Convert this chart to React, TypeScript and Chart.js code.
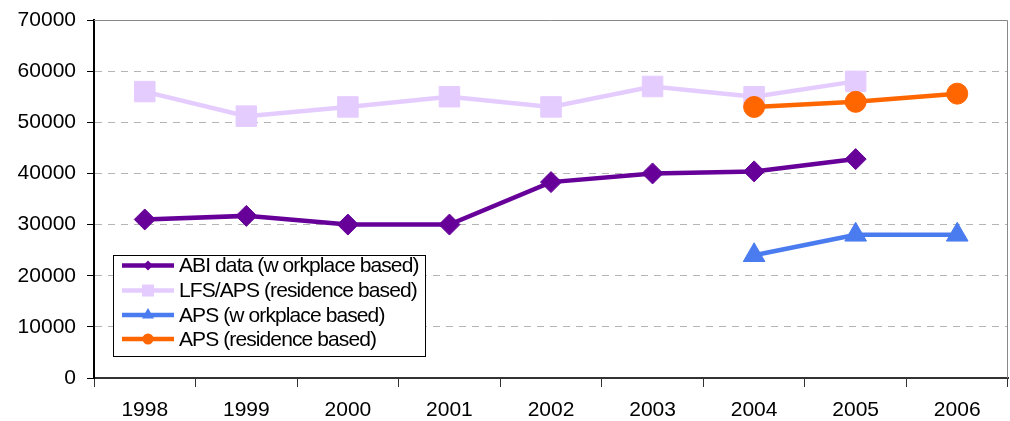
import React, { useEffect, useRef } from "react";
import { Chart, registerables } from "chart.js";

Chart.register(...registerables);

const years = ["1998", "1999", "2000", "2001", "2002", "2003", "2004", "2005", "2006"];
const abiWorkplace = [31000, 31700, 30000, 30000, 38300, 40000, 40400, 42800, null];
const lfsApsResidence = [56000, 51200, 53000, 55000, 53000, 57000, 55000, 58000, null];
const apsWorkplace = [null, null, null, null, null, null, 24000, 28000, 28000];
const apsResidence = [null, null, null, null, null, null, 53000, 54000, 55600];
const seriesLabels = [
  "ABI data (w orkplace based)",
  "LFS/APS (residence based)",
  "APS (w orkplace based)",
  "APS (residence based)",
];

const FONT = "'Liberation Sans', Arial, sans-serif";

// Gray frame on the top and right of the plot area
const frame = {
  id: "frame",
  beforeDatasetsDraw(chart: any) {
    const { ctx, chartArea } = chart;
    ctx.save();
    ctx.strokeStyle = "#888888";
    ctx.lineWidth = 1;
    ctx.beginPath();
    ctx.moveTo(chartArea.left, chartArea.top + 0.5);
    ctx.lineTo(chartArea.right - 0.5, chartArea.top + 0.5);
    ctx.lineTo(chartArea.right - 0.5, chartArea.bottom);
    ctx.stroke();
    ctx.restore();
  },
};

// Boxed legend placed inside the plot area
const innerLegend = {
  id: "innerLegend",
  afterDraw(chart: any) {
    const { ctx } = chart;
    const x0 = 113.5, y0 = 255.5, w = 312, h = 101;
    ctx.save();
    ctx.fillStyle = "#ffffff";
    ctx.fillRect(x0, y0, w, h);
    ctx.strokeStyle = "#000000";
    ctx.lineWidth = 1;
    ctx.strokeRect(x0, y0, w, h);
    const rows = [265.5, 290.5, 315, 339];
    const radii = [5, 8, 7, 5.5];
    chart.data.datasets.forEach((ds: any, i: number) => {
      const y = rows[i];
      ctx.strokeStyle = ds.borderColor;
      ctx.lineWidth = 4.5;
      ctx.beginPath();
      ctx.moveTo(122, y);
      ctx.lineTo(174, y);
      ctx.stroke();
      ctx.fillStyle = ds.backgroundColor;
      ctx.beginPath();
      const r = radii[i];
      const cx = 148;
      if (ds.pointStyle === "rectRot") {
        ctx.moveTo(cx, y - r);
        ctx.lineTo(cx + r, y);
        ctx.lineTo(cx, y + r);
        ctx.lineTo(cx - r, y);
      } else if (ds.pointStyle === "rect") {
        ctx.rect(cx - r * 0.75, y - r * 0.75, r * 1.5, r * 1.5);
      } else if (ds.pointStyle === "triangle") {
        ctx.moveTo(cx, y - r);
        ctx.lineTo(cx + r * 0.866, y + r * 0.5);
        ctx.lineTo(cx - r * 0.866, y + r * 0.5);
      } else {
        ctx.arc(cx, y, r, 0, Math.PI * 2);
      }
      ctx.closePath();
      ctx.fill();
      ctx.fillStyle = "#000000";
      ctx.font = `21px ${FONT}`;
      (ctx as any).letterSpacing = "-0.9px";
      ctx.textBaseline = "middle";
      ctx.textAlign = "left";
      ctx.fillText(ds.label, 179, y + 1);
    });
    ctx.restore();
  },
};

export default function App() {
  const canvasRef = useRef<HTMLCanvasElement | null>(null);

  useEffect(() => {
    if (!canvasRef.current) return;
    const line = (
      label: string,
      data: (number | null)[],
      color: string,
      pointStyle: string,
      radius: number,
      order: number
    ) => ({
      label,
      data,
      borderColor: color,
      backgroundColor: color,
      borderWidth: 4.5,
      pointStyle,
      pointRadius: radius,
      pointHoverRadius: radius,
      pointBorderWidth: 1,
      pointBorderColor: color,
      pointBackgroundColor: color,
      spanGaps: false,
      tension: 0,
      clip: false,
      order,
    });

    const chart = new Chart(canvasRef.current, {
      type: "line",
      data: {
        labels: years,
        datasets: [
          line(seriesLabels[0], abiWorkplace, "#660099", "rectRot", 10.5, 4),
          line(seriesLabels[1], lfsApsResidence, "#e5ccff", "rect", 14.5, 3),
          line(seriesLabels[2], apsWorkplace, "#4a7cf0", "triangle", 12.5, 2),
          line(seriesLabels[3], apsResidence, "#ff6600", "circle", 10.5, 1),
        ] as any,
      },
      options: {
        animation: false,
        responsive: false,
        maintainAspectRatio: false,
        layout: { autoPadding: false, padding: { left: 0, right: 2, top: 20, bottom: 0 } },
        plugins: {
          legend: { display: false },
          tooltip: { enabled: false },
        },
        scales: {
          x: {
            offset: true,
            afterFit: (s: any) => {
              s.height = 43;
              s.paddingLeft = 0;
              s.paddingRight = 0;
            },
            grid: {
              offset: true,
              drawOnChartArea: false,
              drawTicks: true,
              tickLength: 9,
              tickColor: "#333333",
              tickWidth: 1,
            },
            border: { display: true, color: "#333333", width: 2 },
            ticks: {
              color: "#000000",
              font: { family: FONT, size: 21 },
              padding: 11,
              maxRotation: 0,
              autoSkip: false,
            },
          },
          y: {
            min: 0,
            max: 70000,
            afterFit: (s: any) => {
              s.width = 94;
              s.paddingTop = 0;
              s.paddingBottom = 0;
            },
            grid: {
              color: (c: any) =>
                c.tick && (c.tick.value === 0 || c.tick.value === 70000)
                  ? "rgba(0,0,0,0)"
                  : "#b4b4b4",
              lineWidth: 1,
              drawTicks: true,
              tickLength: 7,
              tickColor: "#000000",
              tickWidth: 1,
            },
            border: { display: true, color: "#000000", width: 2, dash: [7, 6] },
            ticks: {
              stepSize: 10000,
              color: "#000000",
              font: { family: FONT, size: 21 },
              padding: 11,
              callback: (v: any) => String(v),
            },
          },
        },
      },
      plugins: [frame, innerLegend],
    });
    return () => chart.destroy();
  }, []);

  return (
    <div style={{ position: "absolute", left: 0, top: 0, width: 1010, height: 421, background: "#ffffff" }}>
      <canvas ref={canvasRef} width={1010} height={421} style={{ display: "block" }} />
    </div>
  );
}
